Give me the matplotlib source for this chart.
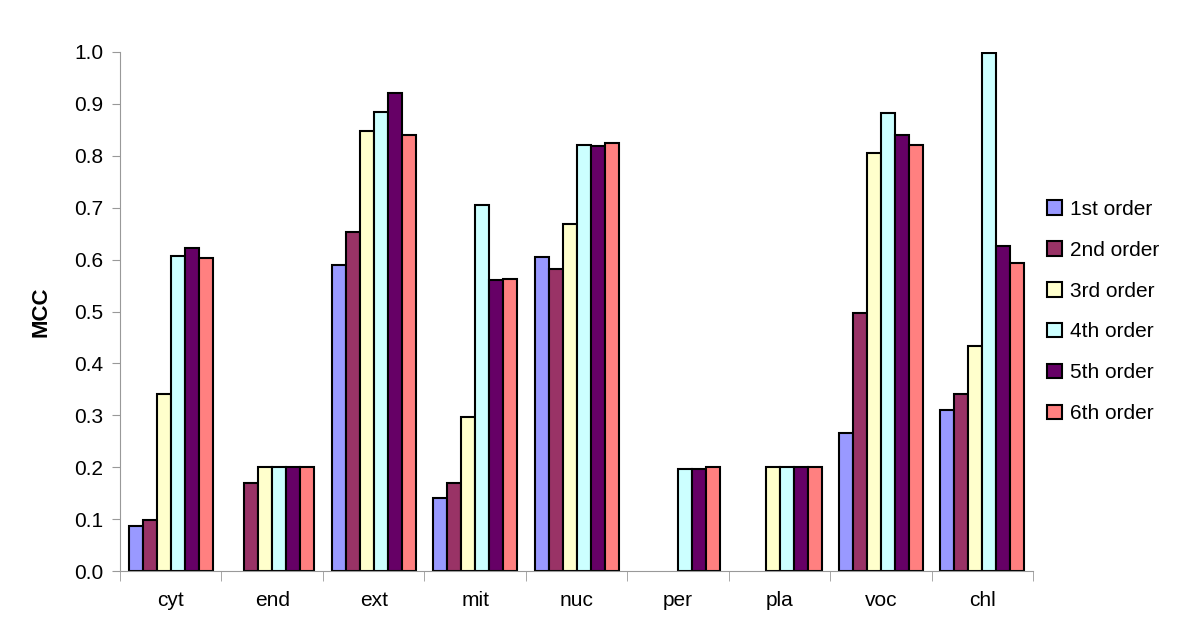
import numpy as np
import matplotlib.pyplot as plt

plt.rcParams['font.family'] = ['Liberation Sans', 'DejaVu Sans']

categories = ['cyt', 'end', 'ext', 'mit', 'nuc', 'per', 'pla', 'voc', 'chl']
series_names = ['1st order', '2nd order', '3rd order', '4th order', '5th order', '6th order']
nan = np.nan
first = [0.087, nan, 0.589, 0.140, 0.605, nan, nan, 0.266, 0.310]
second = [0.098, 0.170, 0.654, 0.170, 0.582, nan, nan, 0.497, 0.342]
third = [0.342, 0.200, 0.848, 0.296, 0.668, nan, 0.200, 0.805, 0.433]
fourth = [0.607, 0.200, 0.885, 0.706, 0.820, 0.196, 0.200, 0.882, 0.997]
fifth = [0.623, 0.200, 0.920, 0.560, 0.818, 0.196, 0.200, 0.840, 0.627]
sixth = [0.603, 0.200, 0.840, 0.562, 0.825, 0.200, 0.200, 0.820, 0.593]
colors = ['#9999FF', '#993366', '#FFFFCC', '#CCFFFF', '#660066', '#FF8080']

series = [first, second, third, fourth, fifth, sixth]

fig = plt.figure(figsize=(12, 6.41), dpi=100)
ax = fig.add_axes([0.1, 0.109, 0.761, 0.81])

x = np.arange(len(categories))
bw = 0.138
for i, (vals, name, c) in enumerate(zip(series, series_names, colors)):
    offs = (i - 2.5) * bw
    ax.bar(x + offs, vals, width=bw, color=c, edgecolor='black', linewidth=1.5, label=name)

ax.set_xlim(-0.5, len(categories) - 0.5)
ax.set_ylim(0, 1.0)
ax.set_yticks(np.arange(0, 1.01, 0.1))
ax.set_yticklabels(['%.1f' % v for v in np.arange(0, 1.01, 0.1)])
ax.set_xticks(x)
ax.set_xticklabels(categories)
ax.set_xticks(np.arange(-0.5, len(categories), 1), minor=True)
ax.tick_params(axis='x', which='major', length=0, labelsize=15, pad=14)
ax.tick_params(axis='x', which='minor', length=7, color='#999999', direction='out')
ax.tick_params(axis='y', length=6, color='#999999', labelsize=15, pad=6)

for s in ['top', 'right']:
    ax.spines[s].set_visible(False)
for s in ['left', 'bottom']:
    ax.spines[s].set_color('#999999')

ax.set_ylabel('MCC', fontsize=16, fontweight='bold', labelpad=16)

ax.legend(loc='center left', bbox_to_anchor=(0.995, 0.5), frameon=False, fontsize=15,
          handlelength=0.7, handleheight=0.7, handletextpad=0.4, labelspacing=1.05)

fig.savefig('out.png', dpi=100)
